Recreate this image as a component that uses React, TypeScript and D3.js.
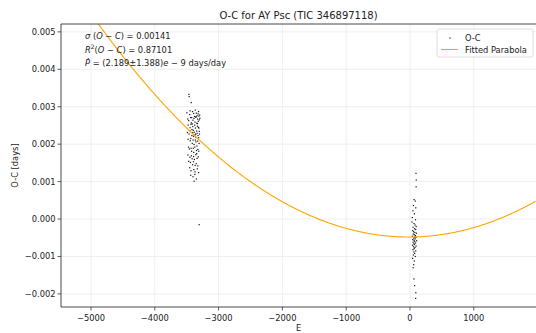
import React from "react";
import * as d3 from "d3";

const W = 536;
const H = 333;

const xTicks = [-5000, -4000, -3000, -2000, -1000, 0, 1000];
const yTicks = [-0.002, -0.001, 0, 0.001, 0.002, 0.003, 0.004, 0.005];
const xDomain = [-5470, 1975];
const yDomain = [-0.00235, 0.00521];

// Fitted parabola: a*(E-E0)^2 + c
const fitA = 2.407e-10;
const fitE0 = -22;
const fitC = -0.00048;

const cluster1E = [
  -3466, -3461, -3428,
  -3497, -3452, -3446, -3421, -3409, -3391, -3377, -3366, -3349, -3337, -3314, -3296,
  -3483, -3468, -3439, -3427, -3402, -3411, -3386, -3371, -3358, -3341, -3329, -3318, -3293,
  -3476, -3447, -3433, -3417, -3404, -3397, -3375, -3362, -3344, -3332, -3309, -3302,
  -3488, -3463, -3451, -3419, -3406, -3393, -3381, -3368, -3353, -3335, -3322, -3299,
  -3479, -3444, -3436, -3413, -3399, -3384, -3364, -3355, -3339, -3327, -3306,
  -3471, -3458, -3431, -3423, -3396, -3389, -3373, -3346, -3343, -3324, -3311,
  -3481, -3449, -3426, -3415, -3392, -3379, -3357, -3338, -3319,
  -3469, -3441, -3407, -3394, -3367, -3351, -3326,
  -3453, -3432, -3387, -3369, -3334, -3313,
  -3437, -3401, -3372, -3347, -3383,
  -3305,
  -3352, -3321, -3303, -3331, -3316, -3308, -3359, -3312,
];
const cluster1OC = [
  0.00333, 0.00327, 0.00311,
  0.00284, 0.00279, 0.00289, 0.00271, 0.00287, 0.00282, 0.00274, 0.00291, 0.00283, 0.00276, 0.00287, 0.00278,
  0.00267, 0.00263, 0.00271, 0.00257, 0.00264, 0.00254, 0.00269, 0.00259, 0.00272, 0.00256, 0.00267, 0.00261, 0.00269,
  0.00251, 0.00244, 0.00253, 0.00239, 0.00247, 0.00237, 0.00251, 0.00243, 0.00235, 0.00248, 0.00243, 0.00234,
  0.00231, 0.00227, 0.00236, 0.00223, 0.00231, 0.00221, 0.00232, 0.00225, 0.00218, 0.00229, 0.00223, 0.00227,
  0.00213, 0.00209, 0.00215, 0.00202, 0.00211, 0.00199, 0.00211, 0.00206, 0.00195, 0.00208, 0.00202,
  0.00192, 0.00187, 0.00189, 0.00181, 0.00189, 0.00178, 0.00192, 0.00183, 0.00175, 0.00186, 0.00181,
  0.00171, 0.00165, 0.00169, 0.00161, 0.00167, 0.00159, 0.00172, 0.00162, 0.00166,
  0.00154, 0.00151, 0.00145, 0.00153, 0.00143, 0.00148, 0.00142,
  0.00137, 0.00129, 0.00132, 0.00126, 0.00134, 0.00124,
  0.00117, 0.00113, 0.00119, 0.00107, 0.00101,
  -0.00015,
  0.00273, 0.00281, 0.00265, 0.00255, 0.00245, 0.00275, 0.00227, 0.00217,
];

const cluster2E = [
  94, 98, 96, 64, 82, 54, 91, 46, 69, 37, 86,
  31, 63, 79, 97, 48, 71, 89, 42, 57, 77, 101, 51, 67, 85, 36, 73, 93, 59, 81, 44,
  65, 104, 75, 49, 87, 61, 70, 39, 95, 55, 78, 66, 47, 90, 62, 74, 53, 83, 41, 68, 58, 50,
  61, 72, 91, 89,
];
const cluster2OC = [
  0.00122, 0.00104, 0.00086, 0.00052, 0.00048, 0.00036, 0.0003, 0.00022, 0.00014, 0.00004, -0.00002,
  -0.00008, -0.00012, -0.00016, -0.0002, -0.00022, -0.00026, -0.00028, -0.00031, -0.00034, -0.00036, -0.00038, -0.0004, -0.00042, -0.00044, -0.00046, -0.00048, -0.00049, -0.00051, -0.00053, -0.00055,
  -0.00057, -0.00058, -0.0006, -0.00062, -0.00064, -0.00066, -0.00068, -0.0007, -0.00072, -0.00074, -0.00076, -0.00079, -0.00082, -0.00085, -0.00088, -0.00092, -0.00096, -0.001, -0.00105, -0.00112, -0.00122, -0.0013,
  -0.0016, -0.00178, -0.00197, -0.00212,
];

const M = { left: 61, right: 536, top: 24, bottom: 307 };
const FONT = "DejaVu Sans, sans-serif";

export default function App() {
  const x = d3.scaleLinear().domain(xDomain).range([M.left, M.right]);
  const y = d3.scaleLinear().domain(yDomain).range([M.bottom, M.top]);

  const curveE = d3.range(xDomain[0], xDomain[1] + 1, 10);
  const line = d3
    .line<number>()
    .x((e) => x(e))
    .y((e) => y(fitA * (e - fitE0) ** 2 + fitC));

  const pts: [number, number][] = [];
  cluster1E.forEach((e, i) => pts.push([e, cluster1OC[i]]));
  cluster2E.forEach((e, i) => pts.push([e, cluster2OC[i]]));

  const fmtY = (v: number) => {
    const s = Math.abs(v).toFixed(3);
    return (v < -1e-12 ? "\u2212" : "") + s;
  };
  const fmtX = (v: number) => (v < 0 ? "\u2212" + Math.abs(v) : String(v));

  return (
    <svg width={W} height={H} style={{ position: "absolute", left: 0, top: 0 }} fontFamily={FONT}>
      <rect width={W} height={H} fill="#fff" />
      <defs>
        <clipPath id="plot">
          <rect x={M.left} y={M.top} width={M.right - M.left} height={M.bottom - M.top} />
        </clipPath>
      </defs>
      {/* grid */}
      {xTicks.map((t) => (
        <line key={"gx" + t} x1={x(t)} x2={x(t)} y1={M.top} y2={M.bottom} stroke="#ebebeb" strokeWidth={0.8} />
      ))}
      {yTicks.map((t) => (
        <line key={"gy" + t} x1={M.left} x2={M.right} y1={y(t)} y2={y(t)} stroke="#ebebeb" strokeWidth={0.8} />
      ))}
      <g clipPath="url(#plot)">
        {pts.map(([e, v], i) => (
          <rect key={i} x={x(e) - 0.6} y={y(v) - 0.6} width={1.2} height={1.2} fill="#111" />
        ))}
        <path d={line(curveE) || ""} fill="none" stroke="#ffa500" strokeWidth={1.1} />
      </g>
      {/* spines */}
      <line x1={M.left} x2={M.left} y1={M.top} y2={M.bottom} stroke="#333" strokeWidth={0.9} />
      <line x1={M.left} x2={M.right} y1={M.bottom} y2={M.bottom} stroke="#333" strokeWidth={0.9} />
      <line x1={M.left} x2={M.right} y1={M.top} y2={M.top} stroke="#333" strokeWidth={0.9} />
      {/* x ticks */}
      {xTicks.map((t) => (
        <g key={"tx" + t}>
          <line x1={x(t)} x2={x(t)} y1={M.bottom} y2={M.bottom + 3.5} stroke="#333" strokeWidth={0.8} />
          <text x={x(t)} y={M.bottom + 13.5} textAnchor="middle" fontSize={8.3} fill="#222">
            {fmtX(t)}
          </text>
        </g>
      ))}
      {yTicks.map((t) => (
        <g key={"ty" + t}>
          <line x1={M.left - 3.5} x2={M.left} y1={y(t)} y2={y(t)} stroke="#333" strokeWidth={0.8} />
          <text x={M.left - 5.5} y={y(t) + 3} textAnchor="end" fontSize={8.3} fill="#222">
            {fmtY(t)}
          </text>
        </g>
      ))}
      <text x={(M.left + M.right) / 2} y={331} textAnchor="middle" fontSize={8.3} fill="#222">E</text>
      <text transform={`translate(18,${(M.top + M.bottom) / 2}) rotate(-90)`} textAnchor="middle" fontSize={8.3} fill="#222">
        O-C [days]
      </text>
      <text x={(M.left + M.right) / 2} y={19} textAnchor="middle" fontSize={10} fill="#222">
        O-C for AY Psc (TIC 346897118)
      </text>
      {/* annotation */}
      <g fontSize={8.3} fill="#222">
        <text x={85} y={39}>
          <tspan fontStyle="italic">σ</tspan>
          <tspan> (</tspan>
          <tspan fontStyle="italic">O</tspan>
          <tspan> − </tspan>
          <tspan fontStyle="italic">C</tspan>
          <tspan>) = 0.00141</tspan>
        </text>
        <text x={85} y={52.5}>
          <tspan fontStyle="italic">R</tspan>
          <tspan fontSize={6} dy={-3.5}>2</tspan>
          <tspan dy={3.5}>(</tspan>
          <tspan fontStyle="italic">O</tspan>
          <tspan> − </tspan>
          <tspan fontStyle="italic">C</tspan>
          <tspan>) = 0.87101</tspan>
        </text>
        <text x={85} y={66}>
          <tspan fontStyle="italic">Ṗ</tspan>
          <tspan> = (2.189±1.388)</tspan>
          <tspan fontStyle="italic">e</tspan>
          <tspan> − 9 days/day</tspan>
        </text>
      </g>
      {/* legend */}
      <g>
        <rect x={437} y={29} width={96} height={28} rx={2} fill="#fff" fillOpacity={0.8} stroke="#d6d6d6" strokeWidth={0.8} />
        <rect x={449.4} y={37.4} width={1.2} height={1.2} fill="#111" />
        <text x={465} y={41} fontSize={8.3} fill="#222">O-C</text>
        <line x1={441} x2={458} y1={49.5} y2={49.5} stroke="#ffa500" strokeWidth={1.1} />
        <text x={465} y={52.5} fontSize={8.3} fill="#222">Fitted Parabola</text>
      </g>
    </svg>
  );
}
